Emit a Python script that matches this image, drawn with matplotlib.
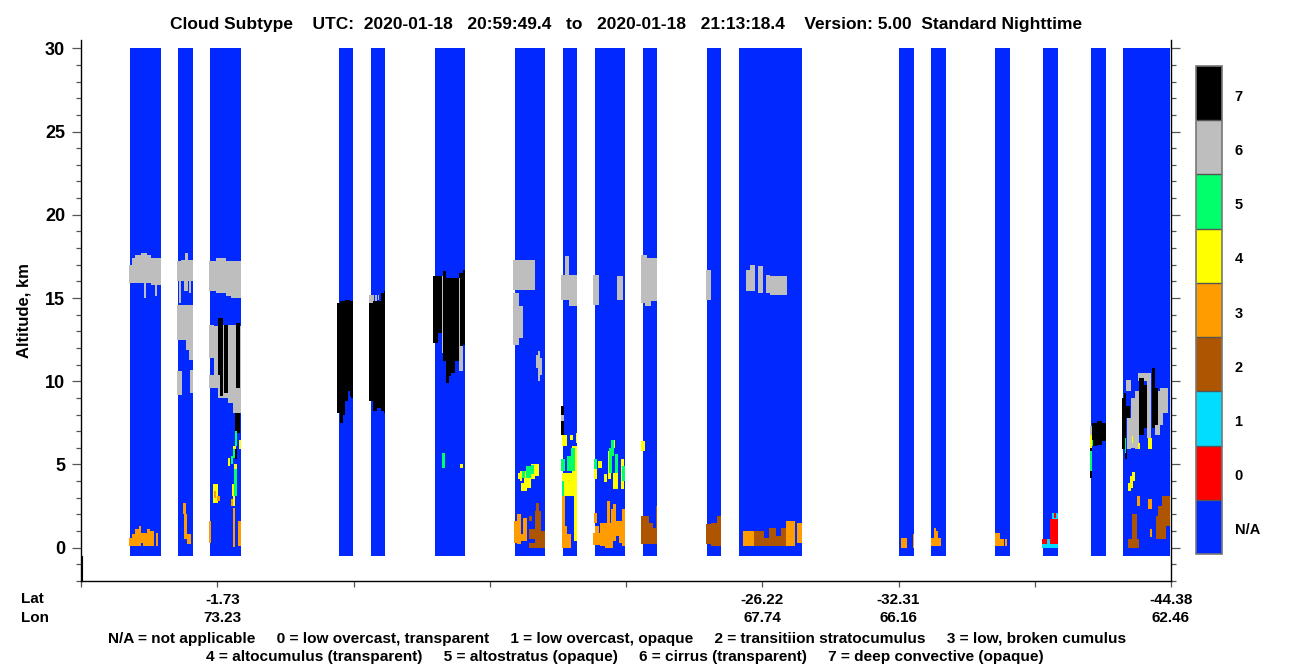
import numpy as np
import matplotlib
matplotlib.use("Agg")
import matplotlib.pyplot as plt
from matplotlib.colors import ListedColormap, BoundaryNorm
from matplotlib.transforms import ScaledTranslation

plt.rcParams['font.family'] = ['Liberation Sans', 'DejaVu Sans']
plt.rcParams['font.weight'] = 'bold'

# Track position runs 0..1090 along the x axis, altitude in km
swath_start = [49, 97, 129, 258, 290, 354, 434, 482, 514, 562, 626, 658, 818, 850, 914, 962, 1010, 1042]
swath_end = [80, 112, 160, 272, 304, 384, 464, 496, 544, 576, 640, 721, 833, 865, 929, 977, 1025, 1089]
swath_bottom = -0.5
swath_top = 30.0

# every row: track start, track end, cloud base, cloud top
cirrus = [
    # first swath
    (48, 51, 15.9, 17.0), (51, 54, 15.9, 17.4), (54, 60, 15.9, 17.6), (60, 66, 15.9, 17.7),
    (66, 70, 15.9, 17.6), (70, 80, 15.8, 17.4), (63, 65, 15.0, 16.0), (74, 76, 15.1, 16.0),
    # second swath
    (96, 100, 16.0, 17.2), (100, 104, 16.0, 17.3), (104, 107, 16.0, 17.7), (107, 112, 16.0, 17.3),
    (97.5, 99.5, 14.7, 16.0), (103, 107, 15.4, 16.0), (108, 110, 15.3, 16.0),
    (96, 105, 12.5, 14.6), (105, 108, 11.9, 14.6), (108, 112, 11.3, 14.6),
    (96, 101, 9.2, 10.6), (109, 112, 9.3, 10.7),
    # third swath
    (128, 135, 15.4, 17.2), (135, 145, 15.3, 17.4), (145, 150, 15.1, 17.2), (150, 160, 15.0, 17.2),
    (128, 133, 11.4, 13.4), (128, 137, 9.6, 10.4), (133, 137, 10.4, 13.3), (137, 147, 9.0, 13.4),
    (147, 155, 8.7, 13.4), (152, 155, 8.1, 8.7), (155, 160, 8.1, 13.3),
    # swaths with deep convection on top
    (288, 293, 14.7, 15.2), (294, 296, 14.8, 15.2), (297, 298, 14.9, 15.2), (301, 304, 14.4, 15.2),
    (378, 382, 10.6, 12.1),
    # middle of the orbit
    (432, 454, 15.5, 17.3), (432, 438, 14.5, 15.3), (432, 442, 12.6, 14.5), (432, 438, 12.2, 12.6),
    (455, 457, 10.8, 11.6), (457, 459, 10.0, 11.8), (459, 461, 10.4, 11.4),
    (480, 484, 14.9, 16.4), (484, 488, 14.9, 17.5), (488, 494, 14.5, 16.4), (494, 496, 14.5, 16.4),
    (480, 483, 7.6, 8.0),
    (512, 518, 14.6, 16.4), (536, 542, 14.9, 16.3),
    (560, 566, 14.7, 17.6), (566, 576, 14.8, 17.4), (564, 570, 14.5, 14.8),
    (625, 630, 14.9, 16.7),
    (665, 669, 15.4, 16.7), (669, 674, 15.4, 17.0), (677, 682, 15.3, 16.9), (685, 689, 15.3, 16.4),
    (689, 706, 15.2, 16.3),
    # southern end
    (1009, 1011, 6.8, 7.3),
    (1045, 1050, 9.4, 10.1), (1057, 1070, 10.0, 10.5), (1046, 1050, 5.9, 7.8), (1050, 1054, 6.0, 9.0),
    (1054, 1058, 5.9, 9.4), (1066, 1070, 6.6, 10.0), (1074, 1079, 6.8, 9.4), (1079, 1082, 7.4, 9.6),
    (1082, 1087, 8.1, 9.6),
]
deep_convective = [
    (137, 142, 10.4, 13.8), (139, 142, 9.1, 10.4), (143, 147, 9.3, 13.4), (155, 159, 9.6, 13.5),
    (154, 159, 6.9, 8.1), (154, 156, 5.3, 5.9),
    (256, 259, 8.1, 14.7), (259, 262, 7.5, 14.8), (262, 264, 8.0, 14.8), (264, 267, 8.8, 14.9),
    (267, 269, 9.4, 14.9), (269, 270, 9.1, 14.8), (270, 272, 9.0, 14.8),
    (288, 292, 8.8, 14.7), (292, 296, 8.2, 14.8), (296, 300, 8.4, 14.8), (300, 303, 8.2, 15.3),
    (303, 304, 8.1, 15.4),
    (352, 357, 12.3, 16.3), (357, 362, 12.9, 16.3), (362, 365, 11.2, 16.6), (365, 368, 9.9, 16.2),
    (368, 370, 10.3, 16.2), (370, 374, 10.5, 16.2), (374, 378, 11.2, 16.2), (378, 382, 12.1, 16.5),
    (382, 384, 12.2, 16.7),
    (480, 483, 8.0, 8.5), (480, 483, 6.8, 7.6),
    (1011, 1016, 6.1, 7.5), (1016, 1021, 6.2, 7.6), (1021, 1025, 6.4, 7.5),
    (1009, 1011, 5.8, 6.0), (1009, 1011, 4.2, 4.6),
    (1041, 1043, 5.9, 9.0), (1043, 1045, 5.9, 9.3), (1044, 1049, 7.8, 8.5), (1044, 1046, 5.3, 5.9),
    (1058, 1063, 6.8, 10.2), (1063, 1066, 7.2, 9.8), (1071, 1074, 7.2, 10.8), (1074, 1077, 7.4, 9.6),
]
cirrus_streaks = [
    (142, 143, 9.3, 13.4), (361, 362, 11.7, 16.3), (378, 379, 12.1, 16.2),
]
altostratus = [
    (154, 156, 6.1, 7.0), (152, 154, 5.4, 5.9), (150, 152, 5.0, 5.5), (153, 156, 3.1, 4.7),
    (361, 364, 4.8, 5.7),
    (441, 444, 4.2, 4.6), (445, 450, 4.2, 4.9), (450, 453, 4.4, 4.95),
    (480, 484, 4.6, 5.3), (481, 483, 3.1, 4.0), (486, 494, 4.6, 5.5), (490, 494, 5.5, 6.0),
    (513, 516, 4.7, 5.3),
    (528, 531, 4.5, 6.0), (530, 533, 5.5, 6.5), (534, 537, 4.5, 5.6), (541, 544, 4.0, 4.9),
    (1011, 1012, 6.1, 6.5), (1009, 1011, 4.6, 5.8), (1044, 1045, 5.7, 6.6),
]
altocumulus = [
    (158, 160, 5.9, 6.5), (152, 155, 5.9, 6.1), (147, 149, 4.9, 5.4), (153, 156, 4.7, 5.0),
    (151, 153, 3.1, 3.8), (132, 137, 2.7, 3.8), (152, 154, 2.5, 3.1),
    (379, 382, 4.8, 5.0),
    (437, 439, 4.1, 4.5), (439, 441, 4.0, 4.6), (440, 446, 3.4, 3.9), (443, 450, 3.6, 4.6),
    (450, 454, 4.1, 5.0), (454, 458, 4.3, 5.0),
    (481, 486, 6.1, 6.8), (489, 492, 6.5, 6.8), (495, 496, 6.3, 6.9),
    (481, 496, 3.1, 4.5), (491, 496, 4.5, 6.1), (493, 496, 0.4, 3.1),
    (513, 516, 4.1, 4.7), (517, 521, 4.8, 5.2),
    (523, 526, 3.95, 4.4), (527, 530, 4.1, 5.8), (531, 534, 6.0, 6.5), (532, 537, 3.5, 4.5),
    (540, 543, 3.5, 5.3),
    (560, 564, 5.8, 6.4),
    (1009, 1011, 6.0, 6.8), (1057, 1059, 5.9, 6.3), (1067, 1071, 5.9, 6.6), (1051, 1052, 6.3, 6.7),
    (1047, 1050, 3.4, 3.9), (1049, 1052, 3.6, 4.3), (1051, 1054, 4.0, 4.56),
]
low_broken = [
    (48, 51, 0.1, 0.6), (51, 54, 0.1, 0.8), (54, 58, 0.1, 1.1), (58, 60, 0.1, 1.3), (60, 62, 0.3, 0.9),
    (62, 66, 0.1, 0.9), (66, 69, 0.1, 1.1), (69, 73, 0.1, 1.0), (75, 77, 0.1, 0.9),
    (102, 105, 2.0, 2.7), (103, 106, 0.9, 2.0), (103, 106, 0.5, 0.9), (106, 110, 0.2, 0.8),
    (128, 130, 0.3, 1.6), (152, 154, 0.02, 2.4), (150, 152, 2.5, 2.9), (157, 160, 0.1, 1.6),
    (133, 135, 3.0, 3.4), (136, 139, 2.8, 3.1),
    (433, 436, 0.3, 1.6), (436, 440, 0.2, 2.0), (440, 442, 0.4, 0.8), (442, 446, 0.4, 1.8),
    (481, 484, 1.3, 3.1), (481, 486, 0.0, 1.3), (486, 490, 0.0, 0.8),
    (513, 516, 1.5, 2.1), (512, 519, 0.15, 0.9), (514, 518, 0.9, 1.3), (519, 524, 0.1, 1.5),
    (526, 529, 0.1, 2.8), (524, 532, 0.0, 1.5), (530, 535, 0.4, 2.3), (532, 535, 2.3, 2.6),
    (535, 538, 0.7, 1.6), (538, 541, 0.3, 1.6), (541, 544, 0.1, 2.3),
    (662, 673, 0.1, 1.0), (705, 714, 0.1, 1.6), (716, 721, 0.3, 1.5),
    (820, 826, 0.0, 0.6), (832, 833, 0.0, 0.8),
    (850, 860, 0.1, 0.6), (853, 855, 0.1, 1.2), (855, 857, 0.1, 1.0),
    (914, 919, 0.1, 0.9), (919, 923, 0.1, 0.5), (924, 926, 0.1, 0.5),
    (1056, 1059, 2.5, 3.1), (1067, 1071, 2.3, 2.9), (1069, 1071, 0.66, 1.1),
]
transition_sc = [
    (448, 451, 1.6, 1.9), (448, 454, 0.5, 1.1), (448, 464, 0.0, 0.3), (454, 460, 0.0, 2.2),
    (455, 458, 2.2, 2.7), (460, 464, 0.0, 1.0),
    (560, 568, 0.2, 1.9), (568, 572, 0.2, 1.5), (572, 575, 0.2, 1.2), (575, 576, 0.2, 2.5),
    (625, 630, 0.2, 1.4), (630, 636, 0.1, 1.5), (636, 640, 0.1, 1.9),
    (673, 683, 0.1, 1.0), (683, 688, 0.1, 0.6), (688, 695, 0.1, 1.2), (695, 700, 0.1, 0.7),
    (700, 705, 0.1, 1.2),
    (1047, 1058, 0.0, 0.5), (1051, 1056, 0.5, 2.0), (1075, 1085, 0.5, 1.9), (1077, 1085, 1.9, 2.5),
    (1081, 1089, 1.3, 3.1),
]
low_opaque = [(961, 977, 0.0, 0.5), (971, 977, 1.7, 2.1)]
low_transparent = [(969, 977, 0.2, 1.7), (961, 966, 0.2, 0.5), (973, 975, 1.8, 2.1)]

class_labels = ['N/A', '0', '1', '2', '3', '4', '5', '6', '7']
class_colors = ['#0028FF', '#FF0000', '#00DDFF', '#AD5500', '#FF9C00', '#FFFF00', '#00FF6A', '#BEBEBE', '#000000']

tick_track = [136.25, 681.25, 817.5, 1090]
lat_labels = ['-1.73', '-26.22', '-32.31', '-44.38']
lon_labels = ['73.23', '67.74', '66.16', '62.46']

title = ("Cloud Subtype    UTC:  2020-01-18   20:59:49.4   to   2020-01-18   21:13:18.4"
         "    Version: 5.00  Standard Nighttime")
legend_1 = ("N/A = not applicable     0 = low overcast, transparent     1 = low overcast, opaque"
            "     2 = transitiion stratocumulus     3 = low, broken cumulus")
legend_2 = ("4 = altocumulus (transparent)     5 = altostratus (opaque)"
            "     6 = cirrus (transparent)     7 = deep convective (opaque)")


def draw_boxes(ax, boxes, color):
    rows = np.array(boxes, dtype=float)
    ax.bar(rows[:, 0], rows[:, 3] - rows[:, 2], width=rows[:, 1] - rows[:, 0], bottom=rows[:, 2],
           align='edge', color=color, linewidth=0, antialiased=False)


fig = plt.figure(figsize=(13, 6.67), dpi=100)
ax = fig.add_axes([81 / 1300, 1 - 581 / 667, 1090 / 1300, 541 / 667])

for start, end in zip(swath_start, swath_end):
    ax.bar(start, swath_top - swath_bottom, width=end - start, bottom=swath_bottom, align='edge',
           color=class_colors[0], linewidth=0, antialiased=False)

# order matters here, later classes sit over the cirrus
draw_boxes(ax, cirrus, class_colors[7])
draw_boxes(ax, deep_convective, class_colors[8])
draw_boxes(ax, cirrus_streaks, class_colors[7])
draw_boxes(ax, altocumulus, class_colors[5])
draw_boxes(ax, altostratus, class_colors[6])
draw_boxes(ax, low_broken, class_colors[4])
draw_boxes(ax, transition_sc, class_colors[3])
draw_boxes(ax, low_opaque, class_colors[2])
draw_boxes(ax, low_transparent, class_colors[1])

ax.set_xlim(0, 1090)
ax.set_ylim(-2, 30.5)
ax.spines['top'].set_visible(False)
for side in ['left', 'right', 'bottom']:
    ax.spines[side].set_linewidth(1.0)

ax.set_yticks(np.arange(0, 31, 5))
ax.set_yticks(np.arange(-2, 31, 1), minor=True)
ax.tick_params(axis='y', which='major', left=True, right=True, length=6.5, width=0.9, color='#555555',
               labelsize=13, pad=5)
ax.tick_params(axis='y', which='minor', left=True, right=True, length=3.6, width=0.9, color='#555555')
ax.set_ylabel('Altitude, km', fontsize=12, fontweight='bold')
ax.yaxis.set_label_coords(-0.0455, 0.50)

ax.set_xticks(np.arange(0, 1091, 136.25))
labels = {t: f"{a}\n{o}" for t, a, o in zip(tick_track, lat_labels, lon_labels)}
ax.set_xticklabels([labels.get(t, '') for t in np.arange(0, 1091, 136.25)], fontsize=11, linespacing=1.45)
ax.tick_params(axis='x', length=4.3, width=0.9, color='#555555', pad=4)
first = ax.get_xticklabels()[1]
first.set_transform(first.get_transform() + ScaledTranslation(5 / 100, 0, fig.dpi_scale_trans))

# the small extra line at the lower left corner
ax.plot([1, 1], [-2, -0.5], color='black', lw=0.8, clip_on=False)

fig.text(626 / 1300, 1 - 24 / 667, title, ha='center', va='center', fontsize=12.55)
fig.text(21 / 1300, 1 - 599 / 667, 'Lat', ha='left', va='center', fontsize=11)
fig.text(21 / 1300, 1 - 618 / 667, 'Lon', ha='left', va='center', fontsize=11)
fig.text(617 / 1300, 1 - 639 / 667, legend_1, ha='center', va='center', fontsize=11.1)
fig.text(625 / 1300, 1 - 657 / 667, legend_2, ha='center', va='center', fontsize=11.1)

cax = fig.add_axes([1196 / 1300, 1 - 554 / 667, 26 / 1300, 488 / 667])
norm = BoundaryNorm(np.arange(len(class_colors) + 1), len(class_colors))
bar = fig.colorbar(plt.cm.ScalarMappable(norm=norm, cmap=ListedColormap(class_colors)), cax=cax,
                   drawedges=True)
bar.set_ticks(np.arange(len(class_labels)) + 0.5)
bar.set_ticklabels(class_labels)
bar.ax.minorticks_off()
bar.ax.tick_params(length=0, labelsize=10.5, pad=9)
for label in bar.ax.get_yticklabels():
    label.set_transform(label.get_transform() + ScaledTranslation(0, -2 / 100, fig.dpi_scale_trans))
bar.outline.set_edgecolor('#777777')
bar.outline.set_linewidth(1.2)
bar.dividers.set_color('#555555')
bar.dividers.set_linewidth(1)

fig.savefig('out.png', dpi=100)
